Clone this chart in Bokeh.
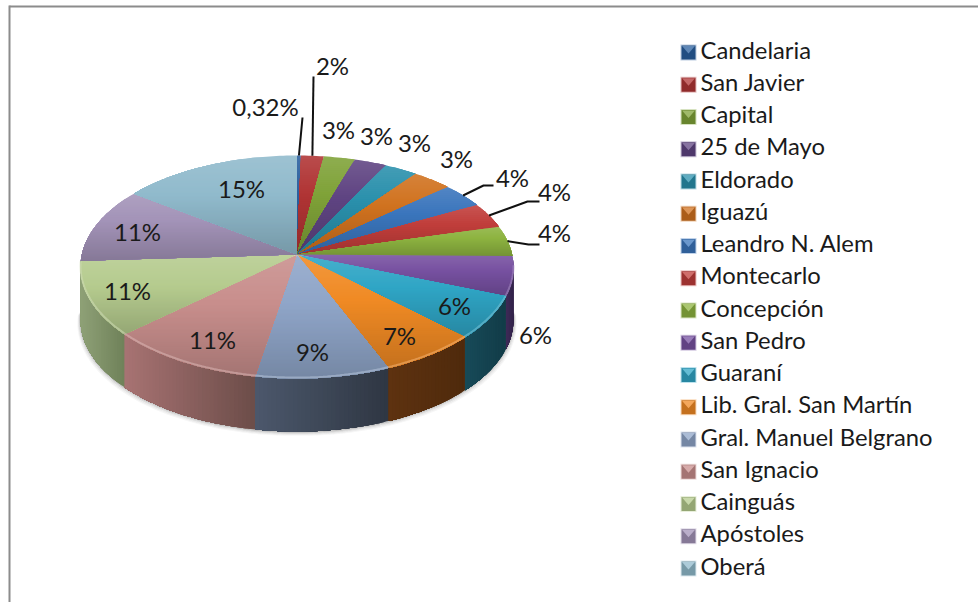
import math
from bokeh.plotting import figure
from bokeh.models import Range1d
from bokeh.core.properties import value
from bokeh.embed import file_html
from bokeh.resources import INLINE

# ---------- data ----------
categories = ["Candelaria", "San Javier", "Capital", "25 de Mayo", "Eldorado", "Iguazú",
              "Leandro N. Alem", "Montecarlo", "Concepción", "San Pedro", "Guaraní",
              "Lib. Gral. San Martín", "Gral. Manuel Belgrano", "San Ignacio",
              "Cainguás", "Apóstoles", "Oberá"]
shares = [0.32, 1.9, 2.6, 2.7, 2.75, 3.3, 3.6, 3.7, 4.4, 5.7, 6.3, 6.6, 9.0, 10.55, 10.8, 10.95, 15.0]
labels = ["0,32%", "2%", "3%", "3%", "3%", "3%", "4%", "4%", "4%", "6%", "6%", "7%", "9%", "11%", "11%", "11%", "15%"]

# ---------- styles and layout (reference pixels) ----------
colors = ["#2A5F9E", "#B03434", "#7FA238", "#5F4482", "#2A90AC", "#D0721F", "#3A75BC", "#C03D3A",
          "#8DB340", "#7650A0", "#2FA5C5", "#F08A24", "#8FA5C8", "#C88E8C", "#B5CB8E", "#A393B8", "#90BACC"]
wall_l = {9: "#3E2A58", 10: "#174A58", 11: "#5E3210", 12: "#4C586C", 13: "#A87373", 14: "#8FA177"}
wall_r = {9: "#33234A", 10: "#123C48", 11: "#4F2A0C", 12: "#2F3743", 13: "#6C4D49", 14: "#6F8159"}
label_x = [265, 332, 338, 376, 414, 456, 512, 554, 554, 535, 454, 399, 312, 212, 127, 137, 241]
label_y = [106, 65, 129, 135, 142, 158, 177, 191, 232, 334, 305, 335, 351, 339, 290, 231, 188]
leader_elbows = {0: [(302, 117)], 1: [(313, 76)],
                 6: [(483, 185), (493, 185)], 7: [(527, 201), (539, 201)], 8: [(528, 244), (539, 244)]}
CX, CY, A, B, K, H = 296.5, 254.0, 215.1, 110.1, 0.1121, 53.0
FONT = "Lato"
LABEL_SIZE = "24px"
LEGEND_SIZE = "23.8px"
LEG_X, LEG_Y0, LEG_DY = 688.0, 52.0, 32.25


def rim(theta_deg):
    t = math.radians(theta_deg)
    u, v = math.sin(t), math.cos(t)
    d = 1 + K * v
    return CX + A * u / d, CY - B * v / d


def rgb(h):
    return tuple(int(h[i:i + 2], 16) for i in (1, 3, 5))


def shade(h, f):
    r = rgb(h)
    if f <= 1:
        c = [x * f for x in r]
    else:
        c = [x + (255 - x) * (f - 1) for x in r]
    return "#%02x%02x%02x" % tuple(int(round(x)) for x in c)


def mix(a, b, t):
    ra, rb = rgb(a), rgb(b)
    return "#%02x%02x%02x" % tuple(int(round(x + (y - x) * t)) for x, y in zip(ra, rb))


def clip_band(pts, y0):
    out = []
    for i in range(len(pts)):
        a, b = pts[i], pts[(i + 1) % len(pts)]
        ia, ib = a[1] >= y0, b[1] >= y0
        if ia:
            out.append(a)
        if ia != ib:
            out.append((a[0] + (b[0] - a[0]) * (y0 - a[1]) / (b[1] - a[1]), y0))
    return out


W, HT = 978, 602
p = figure(width=W, height=HT, x_range=Range1d(0, W), y_range=Range1d(HT, 0),
           output_backend="svg", toolbar_location=None, min_border=0, margin=(0, 0, 0, 0),
           background_fill_color="white", border_fill_color="white", outline_line_color=None)
p.axis.visible = False
p.grid.visible = False

# frame
p.line([9, W], [6, 6], line_color="#8C8C8C", line_width=2)
p.line([9, 9], [5, HT], line_color="#8C8C8C", line_width=2)

total = sum(shares)
edges = [0.0]
for s in shares:
    edges.append(edges[-1] + s / total * 360.0)

# soft shadow under the wall
for i, al in enumerate([0.30, 0.18, 0.10, 0.05]):
    pts = [rim(t) for t in range(92, 270, 2)]
    p.line([q[0] + (0.8 if q[0] > CX else -0.8) * i for q in pts], [q[1] + H + i * 1.0 + 0.5 for q in pts],
           line_color="#555555", line_alpha=al, line_width=1.5)

# walls: each step overlaps the rest of the slice so that no seams show
wx, wy, wc = [], [], []
for i in range(len(shares)):
    a0, a1 = max(edges[i], 90.0), min(edges[i + 1], 268.0)
    if a1 <= a0 or i not in wall_l:
        continue
    n = max(2, int((a1 - a0) / 1.0))
    ts = [a0 + (a1 - a0) * j / n for j in range(n + 1)]
    rims = [rim(t) for t in ts]
    xmin, xmax = min(q[0] for q in rims), max(q[0] for q in rims)
    for j in range(n):
        seg = rims[j:]
        wx.append([q[0] for q in seg] + [q[0] for q in reversed(seg)])
        wy.append([q[1] for q in seg] + [q[1] + H for q in reversed(seg)])
        t = ((rims[j][0] + rims[j + 1][0]) / 2 - xmin) / max(xmax - xmin, 1e-6)
        wc.append(mix(wall_l[i], wall_r[i], t))
p.patches(wx, wy, fill_color=wc, line_color=None)

# top face with a per-slice vertical gradient
fx, fy, fc = [], [], []
for i in range(len(shares)):
    a0, a1 = edges[i], edges[i + 1]
    n = max(2, int((a1 - a0) / 1.0))
    poly = [(CX, CY)] + [rim(a0 + (a1 - a0) * j / n) for j in range(n + 1)]
    ys = [q[1] for q in poly]
    ymin, ymax = min(ys), max(ys)
    y = ymin
    while y < ymax:
        part = clip_band(poly, y)
        if len(part) >= 3:
            t = (y + 1 - ymin) / max(ymax - ymin, 1e-6)
            c = shade(colors[i], 1.12 - 0.30 * t)
            fx.append([q[0] for q in part])
            fy.append([q[1] for q in part])
            fc.append(c)
        y += 2
p.patches(fx, fy, fill_color=fc, line_color=None)

# bevel highlight along the front rim
for i in range(len(shares)):
    a0, a1 = max(edges[i], 96.0), min(edges[i + 1], 266.0)
    if a1 <= a0:
        continue
    n = max(2, int(a1 - a0))
    pts = [rim(a0 + (a1 - a0) * j / n) for j in range(n + 1)]
    p.line([q[0] for q in pts], [q[1] - 1 for q in pts], line_color=shade(colors[i], 1.35),
           line_alpha=0.55, line_width=2)

# leader lines
for i, elbow in leader_elbows.items():
    mid = (edges[i] + edges[i + 1]) / 2
    start = rim(mid)
    pts = [start] + elbow
    p.line([q[0] for q in pts], [q[1] for q in pts], line_color="#111111", line_width=2)

# data labels
p.text(label_x, label_y, text=labels, text_font=value(FONT), text_font_size=value(LABEL_SIZE),
       text_color="#1A1A1A", text_align="center", text_baseline="middle")

# legend
for i, name in enumerate(categories):
    yc = LEG_Y0 + i * LEG_DY
    xc = LEG_X
    p.rect([xc], [yc], width=16, height=16, fill_color=shade(colors[i], 1.55), line_color=None, fill_alpha=0.7)
    p.rect([xc], [yc], width=14, height=14, fill_color=shade(colors[i], 0.82), line_color=None)
    p.patch([xc - 6.5, xc + 6.5, xc], [yc - 6.5, yc - 6.5, yc + 1], fill_color=shade(colors[i], 1.25), line_color=None)

p.text([700] * len(categories), [LEG_Y0 - 3 + i * LEG_DY for i in range(len(categories))], text=categories,
       text_font=value(FONT), text_font_size=value(LEGEND_SIZE), text_color="#1A1A1A",
       text_align="left", text_baseline="middle")

open("out.html", "w").write(file_html(p, INLINE))
